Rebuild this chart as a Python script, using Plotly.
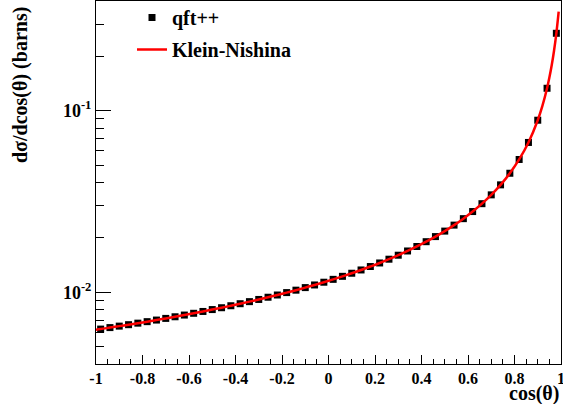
import plotly.graph_objects as go

# Data points (bin centres)
cos_theta = [-0.98, -0.94, -0.90, -0.86, -0.82, -0.78, -0.74, -0.70, -0.66, -0.62,
             -0.58, -0.54, -0.50, -0.46, -0.42, -0.38, -0.34, -0.30, -0.26, -0.22,
             -0.18, -0.14, -0.10, -0.06, -0.02, 0.02, 0.06, 0.10, 0.14, 0.18,
             0.22, 0.26, 0.30, 0.34, 0.38, 0.42, 0.46, 0.50, 0.54, 0.58,
             0.62, 0.66, 0.70, 0.74, 0.78, 0.82, 0.86, 0.90, 0.94, 0.98]
qft_values = [0.00627, 0.00639, 0.00651, 0.00663, 0.00676, 0.00689, 0.00703, 0.00718, 0.00733, 0.00749,
              0.00766, 0.00784, 0.00803, 0.00822, 0.00843, 0.00865, 0.00888, 0.00913, 0.00939, 0.00966,
              0.00996, 0.01027, 0.01061, 0.01097, 0.01136, 0.01178, 0.01224, 0.01273, 0.01327, 0.01386,
              0.01450, 0.01521, 0.01600, 0.01688, 0.01787, 0.01899, 0.02026, 0.02172, 0.02343, 0.02543,
              0.02783, 0.03075, 0.03439, 0.03904, 0.04523, 0.05387, 0.06684, 0.08861, 0.13289, 0.2668]

# Klein-Nishina curve samples
kn_x = [-1.0, -0.98, -0.94, -0.90, -0.86, -0.82, -0.78, -0.74, -0.70, -0.66, -0.62,
        -0.58, -0.54, -0.50, -0.46, -0.42, -0.38, -0.34, -0.30, -0.26, -0.22,
        -0.18, -0.14, -0.10, -0.06, -0.02, 0.02, 0.06, 0.10, 0.14, 0.18,
        0.22, 0.26, 0.30, 0.34, 0.38, 0.42, 0.46, 0.50, 0.54, 0.58,
        0.62, 0.66, 0.70, 0.74, 0.78, 0.82, 0.86, 0.90, 0.92, 0.94, 0.95, 0.96, 0.97, 0.98, 0.99]
kn_y = [0.00622, 0.00627, 0.00639, 0.00651, 0.00663, 0.00676, 0.00689, 0.00703, 0.00718, 0.00733, 0.00749,
        0.00766, 0.00784, 0.00803, 0.00822, 0.00843, 0.00865, 0.00888, 0.00913, 0.00939, 0.00966,
        0.00996, 0.01027, 0.01061, 0.01097, 0.01136, 0.01178, 0.01224, 0.01273, 0.01327, 0.01386,
        0.01450, 0.01521, 0.01600, 0.01688, 0.01787, 0.01899, 0.02026, 0.02172, 0.02343, 0.02543,
        0.02783, 0.03075, 0.03439, 0.03904, 0.04523, 0.05387, 0.06684, 0.08861, 0.10620, 0.13289,
        0.15211, 0.17782, 0.21376, 0.2668, 0.3511]

x_tick_vals = [-1, -0.8, -0.6, -0.4, -0.2, 0, 0.2, 0.4, 0.6, 0.8, 1]
x_tick_text = ["-1", "-0.8", "-0.6", "-0.4", "-0.2", "0", "0.2", "0.4", "0.6", "0.8", "1"]
y_tick_vals = [0.01, 0.1]
y_tick_text = ["10<sup>-2</sup>", "10<sup>-1</sup>"]
y_minor_vals = [0.005, 0.006, 0.007, 0.008, 0.009, 0.02, 0.03, 0.04, 0.05, 0.06,
                0.07, 0.08, 0.09, 0.2, 0.3]

FONT = "Liberation Serif"

fig = go.Figure()
fig.add_trace(go.Scatter(
    x=cos_theta, y=qft_values, mode="markers", name="qft++",
    marker=dict(symbol="square", size=7, color="black"),
    legendgroup="a",
))
fig.add_trace(go.Scatter(
    x=kn_x, y=kn_y, mode="lines", name="Klein-Nishina",
    line=dict(color="red", width=2.5, shape="spline"),
    legendgroup="b",
))

fig.update_layout(
    width=563, height=404,
    margin=dict(l=96, r=2, t=1, b=40, autoexpand=False),
    plot_bgcolor="white", paper_bgcolor="white",
    font=dict(family=FONT, color="black", weight="bold"),
    showlegend=True,
    legend=dict(
        x=(132 - 96) / 465, y=1 + 3 / 363, xanchor="left", yanchor="top",
        font=dict(family=FONT, size=20, color="black", weight="bold"),
        bgcolor="rgba(0,0,0,0)", traceorder="grouped", tracegroupgap=3,
    ),
    xaxis=dict(
        range=[-1, 1], showgrid=False, zeroline=False,
        showline=True, linecolor="black", linewidth=1, mirror=True,
        ticks="inside", ticklen=9, tickwidth=1, tickcolor="black",
        tickvals=x_tick_vals, ticktext=x_tick_text, ticklabeloverflow="allow",
        tickfont=dict(family=FONT, size=16, color="black", weight="bold"),
        minor=dict(ticks="inside", ticklen=5, tickwidth=1, tickcolor="black", dtick=0.05, tick0=0),
    ),
    yaxis=dict(
        type="log", range=[-2.395, -0.396], showgrid=False, zeroline=False,
        showline=True, linecolor="black", linewidth=1, mirror=True,
        ticks="inside", ticklen=15, tickwidth=1, tickcolor="black",
        tickvals=y_tick_vals, ticktext=y_tick_text,
        tickfont=dict(family=FONT, size=18, color="black", weight="bold"),
        minor=dict(ticks="inside", ticklen=8, tickwidth=1, tickcolor="black",
                   tickmode="array", tickvals=y_minor_vals),
    ),
    annotations=[
        dict(text="dσ/dcos(θ) (barns)", textangle=-90, xref="paper", yref="paper",
             x=(20 - 96) / 465, y=(364 - 85) / 363, xanchor="center", yanchor="middle",
             showarrow=False, font=dict(family=FONT, size=20, color="black", weight="bold")),
        dict(text="cos(θ)", xref="paper", yref="paper",
             x=1, y=(364 - 393.5) / 363, xanchor="right", yanchor="middle",
             showarrow=False, font=dict(family=FONT, size=20, color="black", weight="bold")),
    ],
)

fig.write_html(
    "out.html",
    config={"displayModeBar": False},
    post_script="document.body.style.margin='0';document.body.style.overflow='hidden';",
)
